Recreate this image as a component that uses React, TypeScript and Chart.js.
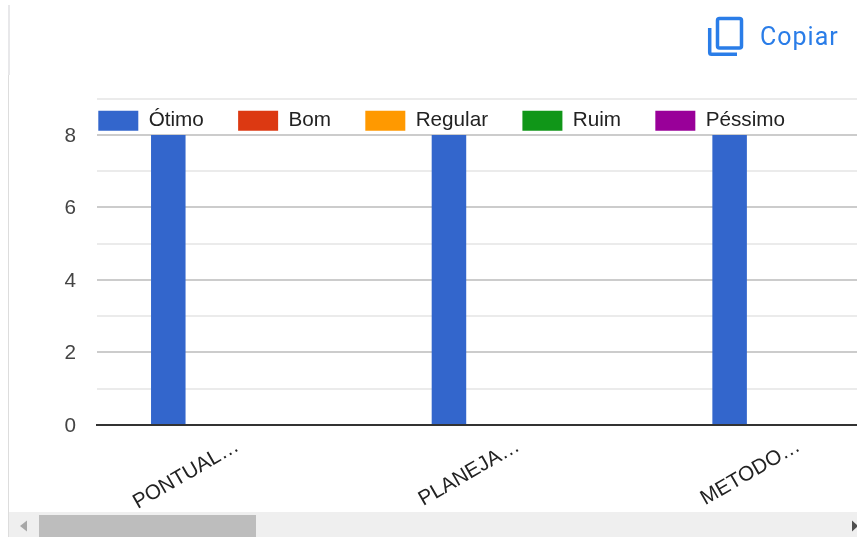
import React, { useEffect, useRef } from "react";
import { Chart, registerables } from "chart.js";

Chart.register(...registerables);

const categories = ["PONTUAL…", "PLANEJA…", "METODO…"];
const otimo = [8, 8, 8];
const bom = [0, 0, 0];
const regular = [0, 0, 0];
const ruim = [0, 0, 0];
const pessimo = [0, 0, 0];
const seriesNames = ["Ótimo", "Bom", "Regular", "Ruim", "Péssimo"];
const seriesColors = ["#3366cc", "#dc3912", "#ff9900", "#109618", "#990099"];
const seriesValues = [otimo, bom, regular, ruim, pessimo];

const FONT = "'Liberation Sans', Arial, sans-serif";

const placeLegend = {
  id: "placeLegend",
  afterLayout(chart: any) {
    if (chart.legend) {
      chart.legend.left = 64;
      chart.legend.top = 76;
      chart.legend.bottom = 200;
    }
  },
};

export default function App() {
  const ref = useRef<HTMLCanvasElement | null>(null);

  useEffect(() => {
    document.body.style.margin = "0";
    const chart = new Chart(ref.current as HTMLCanvasElement, {
      type: "bar",
      plugins: [placeLegend],
      data: {
        labels: categories,
        datasets: seriesNames.map((name, i) => ({
          label: name,
          data: seriesValues[i],
          backgroundColor: seriesColors[i],
          borderWidth: 0,
          categoryPercentage: 0.615,
          barPercentage: 1,
        })),
      },
      options: {
        responsive: false,
        animation: false,
        layout: { padding: { top: 33.7, left: 0, right: 0, bottom: 0 } },
        plugins: {
          title: { display: false },
          tooltip: { enabled: false },
          legend: {
            display: true,
            position: "top",
            align: "start",
            labels: {
              boxWidth: 40,
              boxHeight: 20,
              padding: 34.3,
              color: "#222222",
              font: { family: FONT, size: 20.7 },
            },
          },
        },
        scales: {
          x: {
            afterFit(scale: any) {
              scale.height = 112;
            },
            grid: { display: false },
            border: { display: true, color: "#333333", width: 2, z: 1 },
            ticks: {
              autoSkip: false,
              maxRotation: 30,
              minRotation: 30,
              padding: 1,
              color: "#222222",
              font: { family: FONT, size: 20.7 },
            },
          },
          y: {
            min: 0,
            max: 9,
            afterFit(scale: any) {
              scale.width = 97;
            },
            grid: {
              drawTicks: false,
              lineWidth: 2,
              color: (ctx: any) =>
                ctx.tick && ctx.tick.value % 2 === 0 ? "#cccccc" : "#ebebeb",
            },
            border: { display: false },
            ticks: {
              stepSize: 1,
              autoSkip: false,
              padding: 21,
              labelOffset: 1,
              color: "#444444",
              font: { family: FONT, size: 20.7 },
              callback: (v: any) => (Number(v) % 2 === 0 ? String(v) : ""),
            },
          },
        },
      } as any,
    });
    return () => chart.destroy();
  }, []);

  return (
    <div
      style={{
        position: "fixed",
        left: 0,
        top: 0,
        width: 857,
        height: 537,
        overflow: "hidden",
        background: "#ffffff",
      }}
    >
      <canvas
        ref={ref}
        width={939}
        height={537}
        style={{ position: "absolute", left: 0, top: 0, display: "block" }}
      />
      <div style={{ position: "absolute", left: 8, top: 5, width: 2, height: 70, background: "#e8e8ea" }} />
      <div style={{ position: "absolute", left: 8, top: 75, width: 1, height: 462, background: "#dddddd" }} />
      <svg
        width="40"
        height="44"
        viewBox="0 0 40 44"
        style={{ position: "absolute", left: 706, top: 15 }}
      >
        <rect x="11.5" y="3.5" width="24" height="29.5" rx="2" fill="none" stroke="#2a7de8" strokeWidth="3.5" />
        <path d="M3.7 13 V37.5 Q3.7 39.3 5.5 39.3 H31" fill="none" stroke="#2a7de8" strokeWidth="3.5" />
      </svg>
      <div
        style={{
          position: "absolute",
          left: 760,
          top: 22,
          fontFamily: "Roboto, sans-serif",
          fontSize: 25,
          lineHeight: "30px",
          letterSpacing: 1,
          color: "#2a7de8",
        }}
      >
        Copiar
      </div>
      <div style={{ position: "absolute", left: 9, top: 512, width: 848, height: 25, background: "#efefef" }} />
      <div style={{ position: "absolute", left: 39, top: 515, width: 217, height: 22, background: "#bdbdbd" }} />
      <svg width="857" height="25" style={{ position: "absolute", left: 0, top: 512 }}>
        <path d="M20 14 L27 8.5 V19.5 Z" fill="#a8a8a8" />
        <path d="M852 8.5 L858 14 L852 19.5 Z" fill="#505050" />
      </svg>
    </div>
  );
}
